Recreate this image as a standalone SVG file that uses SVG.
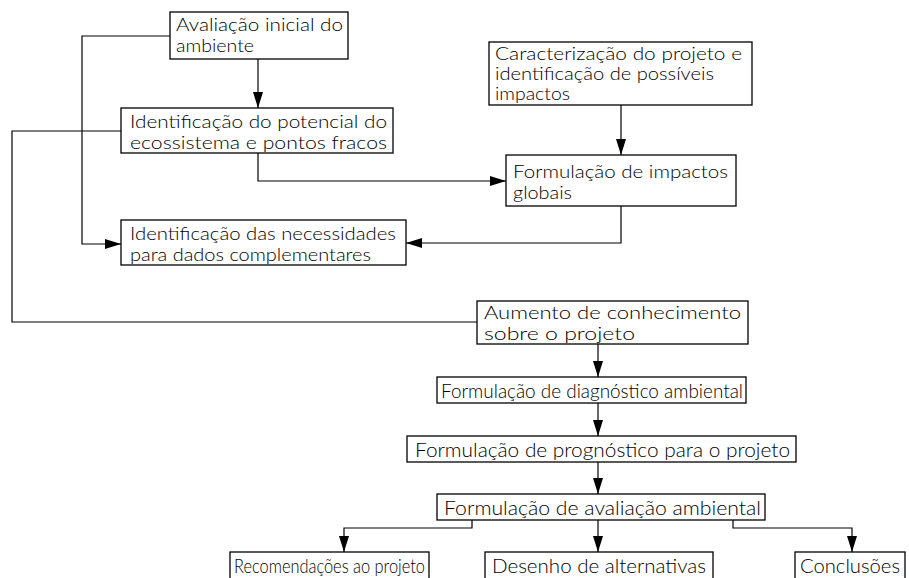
<svg xmlns="http://www.w3.org/2000/svg" width="909" height="578" viewBox="0 0 909 578">
<style>
  .box { fill: #ffffff; stroke: #000000; stroke-width: 1.3; }
  .t { font-family: "Lato", "Liberation Sans", "DejaVu Sans", sans-serif; font-weight: 300; font-size: 18px; fill: #000000; }
  .s { font-size: 20.5px; }
  .c { fill: none; stroke: #000000; stroke-width: 1.2; }
</style>
<defs>
  <marker id="ah" viewBox="0 0 16 10" refX="16" refY="5" markerWidth="16" markerHeight="10" markerUnits="userSpaceOnUse" orient="auto">
    <path d="M0,0 L16,5 L0,10 z" fill="#000000"/>
  </marker>
</defs>
<rect width="909" height="578" fill="#ffffff"/>

<g id="connectors">
  <path class="c" d="M170,36 H82 V244 H121" marker-end="url(#ah)"/>
  <path class="c" d="M258,59 V108" marker-end="url(#ah)"/>
  <path class="c" d="M121,131 H12 V322 H477"/>
  <path class="c" d="M258,153 V181 H506" marker-end="url(#ah)"/>
  <path class="c" d="M621,105 V155" marker-end="url(#ah)"/>
  <path class="c" d="M621,206 V243 H406" marker-end="url(#ah)"/>
  <path class="c" d="M598,344 V377" marker-end="url(#ah)"/>
  <path class="c" d="M598,403 V436" marker-end="url(#ah)"/>
  <path class="c" d="M598,462 V494" marker-end="url(#ah)"/>
  <path class="c" d="M472,520 V528 H344 V552" marker-end="url(#ah)"/>
  <path class="c" d="M598,520 V552" marker-end="url(#ah)"/>
  <path class="c" d="M733,520 V528 H852 V552" marker-end="url(#ah)"/>
</g>

<g id="avaliacao-inicial">
  <rect class="box" x="170" y="12" width="178" height="47"/>
  <text class="t"><tspan x="176" y="31" textLength="167" lengthAdjust="spacingAndGlyphs">Avaliação inicial do</tspan><tspan x="176" y="52" textLength="78" lengthAdjust="spacingAndGlyphs">ambiente</tspan></text>
</g>

<g id="potencial-ecossistema">
  <rect class="box" x="121" y="108" width="272" height="45"/>
  <text class="t"><tspan x="130" y="128" textLength="257" lengthAdjust="spacingAndGlyphs">Identificação do potencial do</tspan><tspan x="130" y="149" textLength="257" lengthAdjust="spacingAndGlyphs">ecossistema e pontos fracos</tspan></text>
</g>

<g id="caracterizacao">
  <rect class="box" x="489" y="42" width="263" height="63"/>
  <text class="t" style="font-size:17px"><tspan x="495" y="60" textLength="247" lengthAdjust="spacingAndGlyphs">Caracterização do projeto e</tspan><tspan x="495" y="80" textLength="219" lengthAdjust="spacingAndGlyphs">identificação de possíveis</tspan><tspan x="495" y="100" textLength="75" lengthAdjust="spacingAndGlyphs">impactos</tspan></text>
</g>

<g id="impactos-globais">
  <rect class="box" x="506" y="155" width="230" height="51"/>
  <text class="t"><tspan x="513" y="178" textLength="215" lengthAdjust="spacingAndGlyphs">Formulação de impactos</tspan><tspan x="513" y="199" textLength="59" lengthAdjust="spacingAndGlyphs">globais</tspan></text>
</g>

<g id="necessidades">
  <rect class="box" x="121" y="220" width="285" height="45"/>
  <text class="t"><tspan x="130" y="240" textLength="266" lengthAdjust="spacingAndGlyphs">Identificação das necessidades</tspan><tspan x="130" y="261" textLength="241" lengthAdjust="spacingAndGlyphs">para dados complementares</tspan></text>
</g>

<g id="aumento-conhecimento">
  <rect class="box" x="477" y="301" width="271" height="43"/>
  <text class="t"><tspan x="484" y="319" textLength="257" lengthAdjust="spacingAndGlyphs">Aumento de conhecimento</tspan><tspan x="484" y="340" textLength="151" lengthAdjust="spacingAndGlyphs">sobre o projeto</tspan></text>
</g>

<g id="diagnostico">
  <rect class="box" x="437" y="377" width="309" height="26"/>
  <text class="t s" x="441" y="398" textLength="302" lengthAdjust="spacingAndGlyphs">Formulação de diagnóstico ambiental</text>
</g>

<g id="prognostico">
  <rect class="box" x="407" y="436" width="389" height="26"/>
  <text class="t s" x="415" y="457" textLength="375" lengthAdjust="spacingAndGlyphs">Formulação de prognóstico para o projeto</text>
</g>

<g id="avaliacao-ambiental">
  <rect class="box" x="437" y="494" width="328" height="26"/>
  <text class="t s" x="444" y="515" textLength="317" lengthAdjust="spacingAndGlyphs">Formulação de avaliação ambiental</text>
</g>

<g id="recomendacoes">
  <rect class="box" x="230" y="552" width="199" height="40"/>
  <text class="t s" x="234" y="573" textLength="191" lengthAdjust="spacingAndGlyphs">Recomendações ao projeto</text>
</g>

<g id="alternativas">
  <rect class="box" x="485" y="552" width="228" height="40"/>
  <text class="t s" x="492" y="573" textLength="214" lengthAdjust="spacingAndGlyphs">Desenho de alternativas</text>
</g>

<g id="conclusoes">
  <rect class="box" x="795" y="552" width="110" height="40"/>
  <text class="t s" x="800" y="573" textLength="100" lengthAdjust="spacingAndGlyphs">Conclusões</text>
</g>
</svg>
